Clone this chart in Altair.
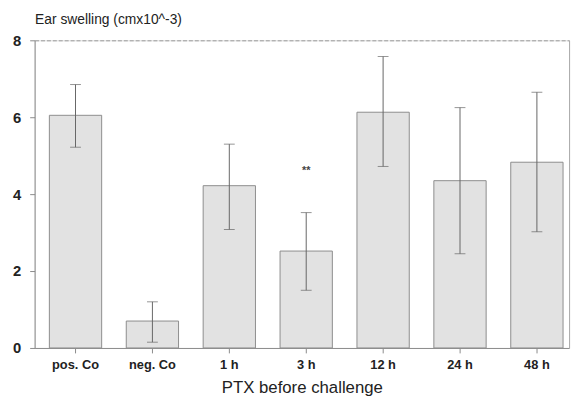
import altair as alt
import pandas as pd

categories = ["pos. Co", "neg. Co", "1 h", "3 h", "12 h", "24 h", "48 h"]
means = [6.05, 0.70, 4.22, 2.52, 6.13, 4.35, 4.83]
lower = [5.22, 0.15, 3.08, 1.50, 4.72, 2.45, 3.02]
upper = [6.85, 1.20, 5.30, 3.52, 7.58, 6.25, 6.65]
marks = ["", "", "", "**", "", "", ""]
mark_y = [None, None, None, 4.6, None, None, None]

df = pd.DataFrame({"cat": categories, "mean": means, "lo": lower, "hi": upper})
df_sig = pd.DataFrame({"cat": categories, "txt": marks, "y": mark_y}).dropna()

FONT = "Liberation Sans"
GRAY = "#8a8a8a"
TXT = "#222222"

xscale = alt.Scale(domain=categories, paddingInner=0.32, paddingOuter=0.135, align=0.71)
yscale = alt.Scale(domain=[0, 8], nice=False)

base = alt.Chart(df)

bars = base.mark_bar(fill="#e2e2e2", stroke="#8c8c8c", strokeWidth=1).encode(
    x=alt.X("cat:N", sort=categories, scale=xscale,
            axis=alt.Axis(orient="bottom", title="PTX before challenge", labelAngle=0,
                          labelFont=FONT, labelFontSize=13, labelFontWeight="bold",
                          labelColor=TXT, labelPadding=6, tickSize=5, tickColor=GRAY,
                          domainColor=GRAY, titleFont=FONT, titleFontSize=17,
                          titleFontWeight="normal", titleColor=TXT, titlePadding=8)),
    y=alt.Y("mean:Q", scale=yscale,
            axis=alt.Axis(orient="left", values=[0, 2, 4, 6, 8], grid=False,
                          labelFont=FONT, labelFontSize=15, labelFontWeight="bold",
                          labelColor=TXT, labelPadding=9, tickSize=5, tickColor=GRAY,
                          domainColor=GRAY, title="Ear swelling (cmx10^-3)",
                          titleAngle=0, titleX=0, titleY=-14, titleAlign="left",
                          titleBaseline="bottom", titleFont=FONT, titleFontSize=14,
                          titleFontWeight="normal", titleColor=TXT)),
)

frame = base.mark_point(opacity=0).encode(
    x=alt.X("cat:N", sort=categories,
            axis=alt.Axis(orient="top", labels=False, ticks=False, title=None,
                          domainColor="#999999", domainDash=[4, 2])),
    y=alt.Y("mean:Q",
            axis=alt.Axis(orient="right", labels=False, ticks=False, title=None,
                          grid=False, domainColor="#aaaaaa")),
)

rules = base.mark_rule(color="#666666", strokeWidth=1).encode(
    x=alt.X("cat:N", sort=categories, axis=None),
    y=alt.Y("lo:Q", axis=None),
    y2="hi:Q",
)

caps_hi = base.mark_tick(color="#666666", size=11, thickness=1).encode(
    x=alt.X("cat:N", sort=categories, axis=None),
    y=alt.Y("hi:Q", axis=None),
)
caps_lo = base.mark_tick(color="#666666", size=11, thickness=1).encode(
    x=alt.X("cat:N", sort=categories, axis=None),
    y=alt.Y("lo:Q", axis=None),
)

sig = alt.Chart(df_sig).mark_text(font=FONT, fontSize=11, fontWeight="bold", color="#444444").encode(
    x=alt.X("cat:N", sort=categories, axis=None),
    y=alt.Y("y:Q", axis=None),
    text="txt:N",
)

chart = alt.layer(bars, frame, rules, caps_hi, caps_lo, sig).resolve_axis(
    x="independent", y="independent"
).properties(
    width=542, height=312,
    autosize=alt.AutoSizeParams(type="none"),
    padding={"left": 27, "top": 30, "right": 5, "bottom": 50},
).configure_view(stroke=None).configure(background="white")

chart.save("out.html", embed_options={"renderer": "svg", "actions": False})
